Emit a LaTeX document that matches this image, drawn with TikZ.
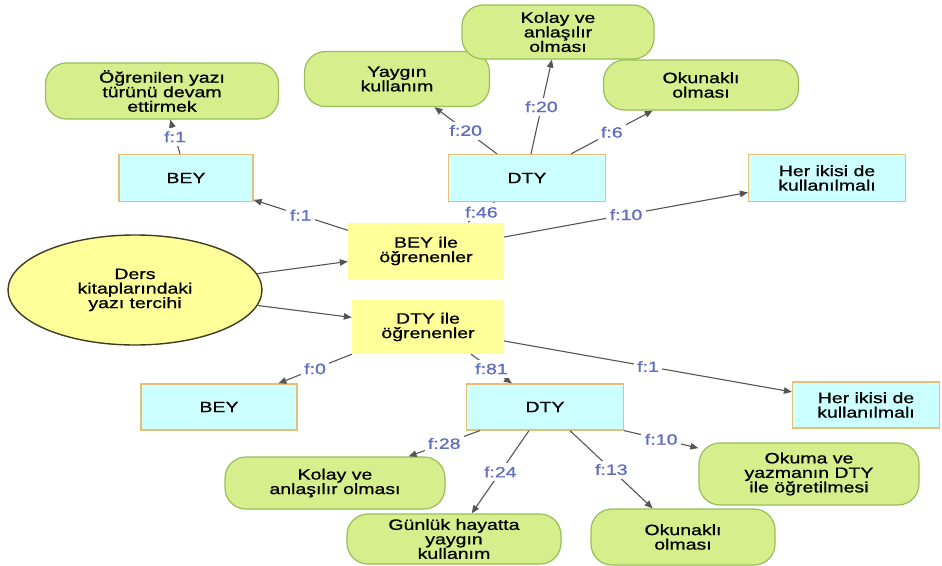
\documentclass[tikz,border=0pt]{standalone}
\usepackage{fontspec}
\setmainfont{Liberation Sans}[FakeStretch=1.3,FakeBold=0.8]
\usetikzlibrary{arrows.meta,shapes.geometric}

\definecolor{paleyellow}{RGB}{255,255,153}
\definecolor{ellipseline}{RGB}{60,60,35}
\definecolor{palecyan}{RGB}{204,255,255}
\definecolor{tanline}{RGB}{230,190,120}
\definecolor{palegreen}{RGB}{214,238,140}
\definecolor{greenline}{RGB}{150,190,90}
\definecolor{linkgrey}{RGB}{85,85,85}
\definecolor{freqblue}{RGB}{95,110,190}

\begin{document}
\begin{tikzpicture}[x=1pt,y=-1pt,
  font=\fontsize{15}{14.5}\selectfont,
  topic/.style={ellipse, draw=ellipseline, fill=paleyellow, line width=1.4pt,
    minimum width=254pt, minimum height=110pt, align=center, inner sep=0pt},
  groupbox/.style={rectangle, fill=paleyellow, align=center, inner sep=0pt},
  choice/.style={rectangle, draw=tanline, fill=palecyan, line width=1.2pt,
    align=center, inner sep=0pt},
  reason/.style={rectangle, rounded corners=21pt, draw=greenline, fill=palegreen,
    line width=1.2pt, align=center, inner sep=0pt},
  link/.style={draw=linkgrey, line width=1.1pt, -{Triangle[length=8pt,width=6.5pt]}},
  freq/.style={fill=white, text=freqblue, inner sep=3.5pt}
]
\useasboundingbox (0,0) rectangle (942,565);

% central topic and the two learner groups
\node[topic] (ell) at (135,290) {Ders\\kitaplarındaki\\yazı tercihi};
\node[groupbox, minimum width=156pt, minimum height=57pt] (bile) at (426,251) {BEY ile\\öğrenenler};
\node[groupbox, minimum width=152pt, minimum height=54pt] (dile) at (428,327) {DTY ile\\öğrenenler};

% preferences of BEY learners
\node[choice, minimum width=134pt, minimum height=47pt] (beyT) at (186,178) {BEY};
\node[choice, minimum width=157pt, minimum height=47pt] (dtyT) at (527,178) {DTY};
\node[choice, minimum width=157pt, minimum height=47pt] (herT) at (827,178) {Her ikisi de\\kullanılmalı};

\node[reason, minimum width=233pt, minimum height=56pt] (ogren) at (162,91) {Öğrenilen yazı\\türünü devam\\ettirmek};
\node[reason, minimum width=185pt, minimum height=55pt] (yaygin) at (397,79) {Yaygın\\kullanım};
\node[reason, minimum width=192pt, minimum height=54pt] (kolayT) at (558,32) {Kolay ve\\anlaşılır\\olması};
\node[reason, minimum width=195pt, minimum height=50pt] (okunT) at (701,85) {Okunaklı\\olması};

% preferences of DTY learners
\node[choice, minimum width=156pt, minimum height=46pt] (beyB) at (219,407) {BEY};
\node[choice, minimum width=157pt, minimum height=46pt] (dtyB) at (545,407) {DTY};
\node[choice, minimum width=147pt, minimum height=46pt] (herB) at (866,405) {Her ikisi de\\kullanılmalı};

\node[reason, minimum width=220pt, minimum height=52pt] (kolayB) at (335,483) {Kolay ve\\anlaşılır olması};
\node[reason, minimum width=214pt, minimum height=50pt] (gunluk) at (454,539) {Günlük hayatta\\yaygın\\kullanım};
\node[reason, minimum width=184pt, minimum height=56pt] (okunB) at (683,537) {Okunaklı\\olması};
\node[reason, minimum width=220pt, minimum height=62pt] (okuma) at (809,474) {Okuma ve\\yazmanın DTY\\ile öğretilmesi};

% connectors
\draw[link] (ell) -- (bile);
\draw[link] (ell) -- (dile);

\draw[link] ([yshift=-8pt]bile.north west) -- node[freq]{f:1} (beyT);
\draw[link] ([xshift=42pt]bile.north) -- node[freq]{f:46} (dtyT);
\draw[link] ([yshift=14pt]bile.east) -- node[freq]{f:10} (herT);

\draw[link] ([xshift=-6pt]beyT.north) -- node[freq]{f:1} (ogren);
\draw[link] ([xshift=-30pt]dtyT.north) -- node[freq]{f:20} (yaygin);
\draw[link] ([xshift=4pt]dtyT.north) -- node[freq]{f:20} (kolayT);
\draw[link] ([xshift=44pt]dtyT.north) -- node[freq]{f:6} (okunT);

\draw[link] (dile.south west) -- node[freq]{f:0} (beyB);
\draw[link] ([xshift=43pt]dile.south) -- node[freq]{f:81} (dtyB);
\draw[link] ([yshift=-14pt]dile.east) -- node[freq]{f:1} (herB);

\draw[link] ([xshift=-65pt]dtyB.south) -- node[freq]{f:28} (kolayB);
\draw[link] ([xshift=-16pt]dtyB.south) -- node[freq]{f:24} (gunluk);
\draw[link] ([xshift=25pt]dtyB.south) -- node[freq]{f:13} (okunB);
\draw[link] (dtyB.south east) -- node[freq]{f:10} (okuma);
\end{tikzpicture}
\end{document}
